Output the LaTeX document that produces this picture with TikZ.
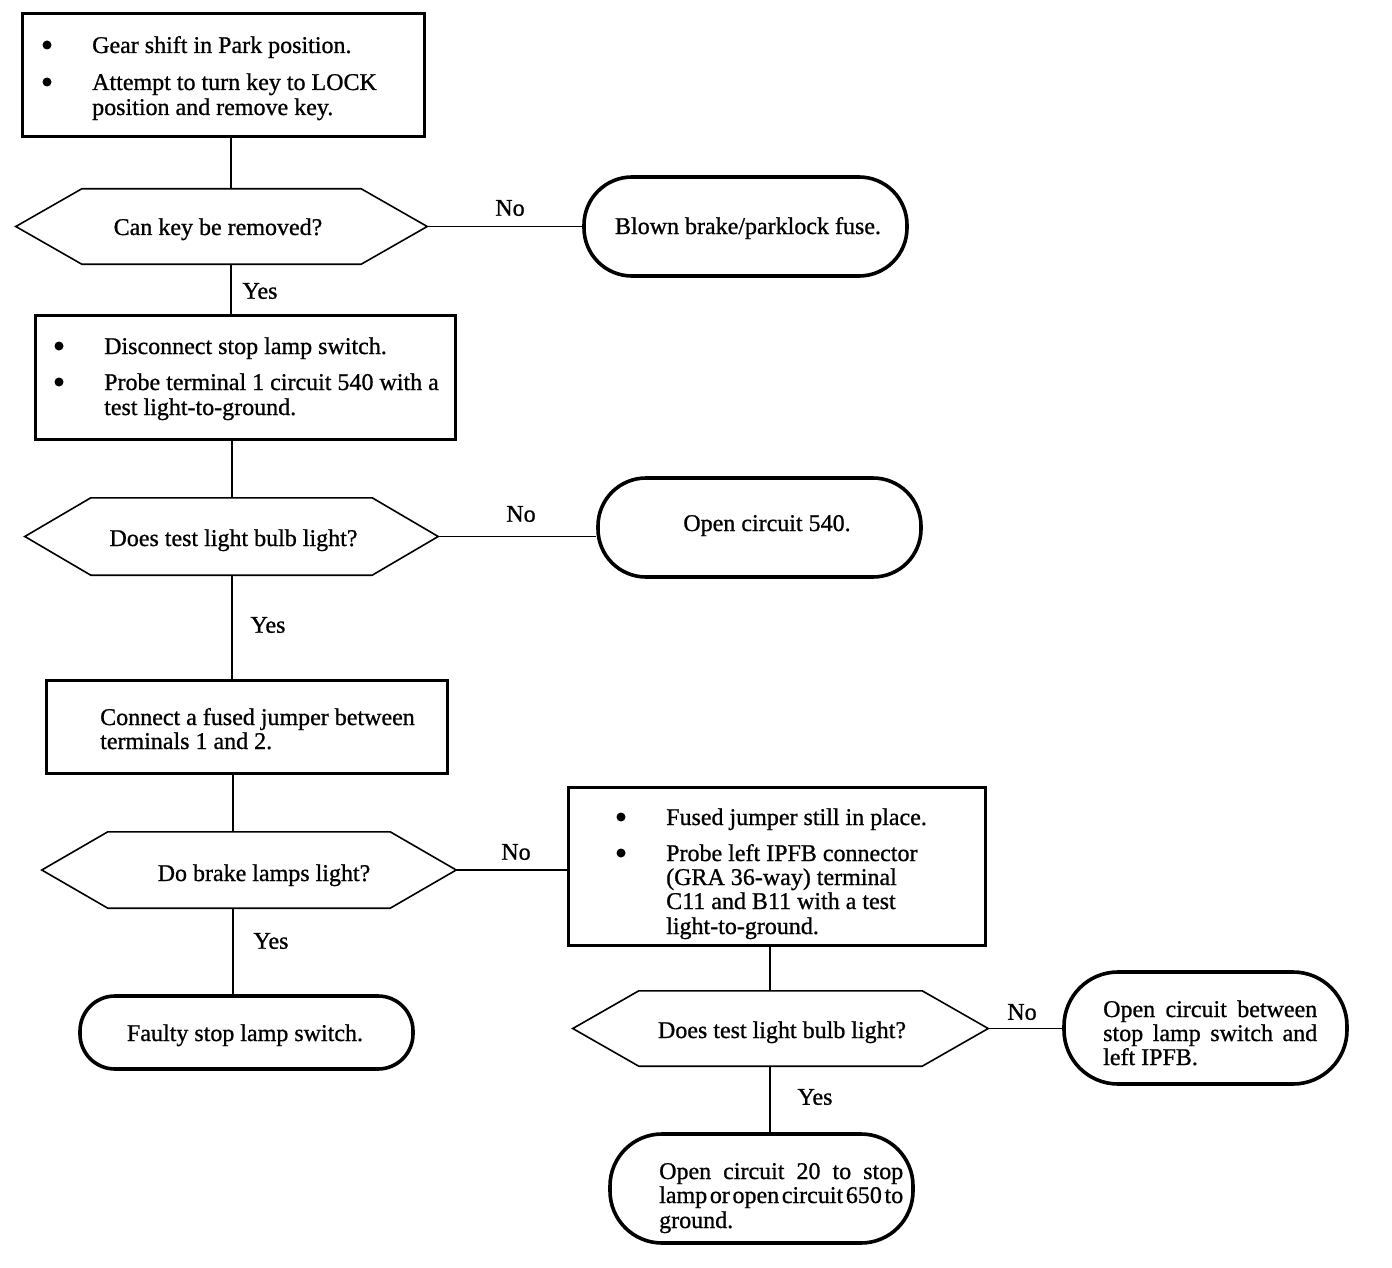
\documentclass[tikz,border=0pt]{standalone}
\usepackage{fontspec}
\setmainfont{Liberation Serif}
\newfontfamily\heavyserif{Liberation Serif}[FakeBold=0.9]
\newcommand\fsz{\heavyserif\fontsize{24}{24.5}\selectfont}
\newcommand\hexout[1]{\draw[hexline] (#1.west) -- ([xshift=66pt]#1.north west) -- ([xshift=-66pt]#1.north east) -- (#1.east) -- ([xshift=-66pt]#1.south east) -- ([xshift=66pt]#1.south west) -- cycle;}
\begin{document}
\begin{tikzpicture}[x=1pt,y=-1pt,
  txt/.style={font=\fsz, inner sep=0pt, anchor=base west},
  ctxt/.style={font=\fsz, inner sep=0pt, anchor=base},
  lbl/.style={font=\fsz, inner sep=0pt},
  boxs/.style={draw, line width=3pt, inner sep=0pt},
  stad/.style={draw, line width=3.6pt, inner sep=0pt},
  hexs/.style={inner sep=0pt},
  hexline/.style={line width=1.6pt, line join=miter},
  conn/.style={line width=1.5pt},
  bul/.style={circle, fill, inner sep=0pt, minimum size=9pt}]
\useasboundingbox (0,0) rectangle (1392,1268);

% ---- Box 1
\node[boxs, minimum width=402pt, minimum height=123pt] (b1) at (223,75.5) {};
\node[bul] (b1u1) at (47,45) {};
\node[bul] (b1u2) at (47,82) {};
\node[txt] (b1t1) at (92,53) {Gear shift in Park position.};
\node[txt] (b1t2) at (92,90) {Attempt to turn key to LOCK};
\node[txt] (b1t3) at (92,115) {position and remove key.};

% ---- Hex 1
\node[hexs, minimum width=411pt, minimum height=75pt] (q1) at (221.5,226.5) {};
\hexout{q1}
\node[ctxt] (q1t) at (218,235) {Can key be removed?};

% ---- Stadium 1
\node[stad, rounded corners=48pt, minimum width=323pt, minimum height=99pt] (s1) at (745.5,226.5) {};
\node[ctxt] (s1t) at (748,234) {Blown brake/parklock fuse.};

% ---- Box 2
\node[boxs, minimum width=420pt, minimum height=124pt] (b2) at (245,377) {};
\node[bul] (b2u1) at (59,346) {};
\node[bul] (b2u2) at (59,382) {};
\node[txt] (b2t1) at (104,354) {Disconnect stop lamp switch.};
\node[txt] (b2t2) at (104,390) {Probe terminal 1 circuit 540 with a};
\node[txt] (b2t3) at (104,415) {test light-to-ground.};

% ---- Hex 2
\node[hexs, minimum width=413pt, minimum height=77pt] (q2) at (231.5,536.5) {};
\hexout{q2}
\node[ctxt] (q2t) at (233.5,546) {Does test light bulb light?};

% ---- Stadium 2
\node[stad, rounded corners=48pt, minimum width=323pt, minimum height=99pt] (s2) at (759.5,527.5) {};
\node[ctxt] (s2t) at (767,531) {Open circuit 540.};

% ---- Box 3
\node[boxs, minimum width=401pt, minimum height=93pt] (b3) at (246.5,726.5) {};
\node[txt] (b3t1) at (100,725) {Connect a fused jumper between};
\node[txt] (b3t2) at (100,749) {terminals 1 and 2.};

% ---- Hex 3
\node[hexs, minimum width=414pt, minimum height=76pt] (q3) at (249,870) {};
\hexout{q3}
\node[ctxt] (q3t) at (264,881) {Do brake lamps light?};

% ---- Stadium 5
\node[stad, rounded corners=35pt, minimum width=333pt, minimum height=73pt] (s5) at (246.5,1032.5) {};
\node[ctxt] (s5t) at (245,1041) {Faulty stop lamp switch.};

% ---- Box 4
\node[boxs, minimum width=417pt, minimum height=158pt] (b4) at (776.5,866) {};
\node[bul] (b4u1) at (621,817) {};
\node[bul] (b4u2) at (621,853) {};
\node[txt] (b4t1) at (666,825) {Fused jumper still in place.};
\node[txt] (b4t2) at (666,861) {Probe left IPFB connector};
\node[txt] (b4t3) at (666,885) {(GRA 36-way) terminal};
\node[txt] (b4t4) at (666,909) {C11 and B11 with a test};
\node[txt] (b4t5) at (666,934) {light-to-ground.};

% ---- Hex 4
\node[hexs, minimum width=415pt, minimum height=75pt] (q4) at (780.5,1028.5) {};
\hexout{q4}
\node[ctxt] (q4t) at (782,1038) {Does test light bulb light?};

% ---- Stadium 3
\node[stad, rounded corners=54pt, minimum width=283pt, minimum height=112pt] (s3) at (1205.5,1028) {};
\node[txt] (s3t1) at (1103,1017) {\makebox[214pt][s]{Open circuit between}};
\node[txt] (s3t2) at (1103,1041) {\makebox[214pt][s]{stop lamp switch and}};
\node[txt] (s3t3) at (1103,1065) {left IPFB.};

% ---- Stadium 4
\node[stad, rounded corners=52pt, minimum width=303pt, minimum height=109pt] (s4) at (761.5,1188.5) {};
\node[txt] (s4t1) at (659,1179) {\makebox[244pt][s]{Open circuit 20 to stop}};
\node[txt] (s4t2) at (659,1203) {\makebox[244pt][s]{\spaceskip=1pt plus 20pt lamp or open circuit 650 to}};
\node[txt] (s4t3) at (659,1228) {ground.};

% ---- connector x positions
\coordinate (xa) at (231,0);
\coordinate (xb) at (232,0);
\coordinate (xc) at (233,0);
\coordinate (xd) at (770,0);

\draw[conn] (b1.south -| xa) -- (q1.north -| xa);
\draw[conn] (q1.east) -- (q1.east -| s1.west);
\draw[conn] (q1.south -| xa) -- (b2.north -| xa);
\draw[conn] (b2.south -| xb) -- (q2.north -| xb);
\draw[conn] (q2.east) -- (q2.east -| s2.west);
\draw[conn] (q2.south -| xb) -- (b3.north -| xb);
\draw[conn] (b3.south -| xc) -- (q3.north -| xc);
\draw[conn] (q3.east) -- (q3.east -| b4.west);
\draw[conn] (q3.south -| xc) -- (s5.north -| xc);
\draw[conn] (b4.south -| xd) -- (q4.north -| xd);
\draw[conn] (q4.east) -- (q4.east -| s3.west);
\draw[conn] (q4.south -| xd) -- (s4.north -| xd);

% ---- labels
\node[lbl] (l1) at (510,208) {No};
\node[lbl] (l2) at (260,291) {Yes};
\node[lbl] (l3) at (521,514) {No};
\node[lbl] (l4) at (268,625) {Yes};
\node[lbl] (l5) at (516,852) {No};
\node[lbl] (l6) at (271,941) {Yes};
\node[lbl] (l7) at (1022,1012) {No};
\node[lbl] (l8) at (815,1097) {Yes};
\end{tikzpicture}
\end{document}
